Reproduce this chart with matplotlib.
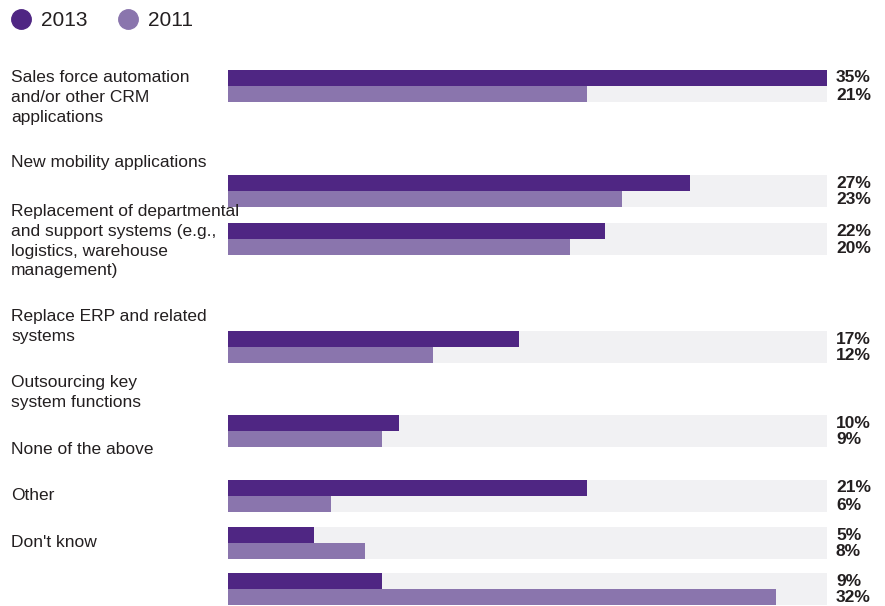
import matplotlib.pyplot as plt
from matplotlib.lines import Line2D

# Data
labels = [
    "Sales force automation\nand/or other CRM\napplications",
    "New mobility applications",
    "Replacement of departmental\nand support systems (e.g.,\nlogistics, warehouse\nmanagement)",
    "Replace ERP and related\nsystems",
    "Outsourcing key\nsystem functions",
    "None of the above",
    "Other",
    "Don't know",
]
v2013 = [35, 27, 22, 17, 10, 21, 5, 9]
v2011 = [21, 23, 20, 12, 9, 6, 8, 32]

# Layout (pixel rows as in the original, which are offset from the labels)
bar_top = [70, 175, 223, 331, 415, 480, 527, 573]
label_top = [77, 162, 211, 316, 382, 449, 495, 542]
bar_h = 16
full = 35

c2013 = "#4f2683"
c2011 = "#8a75ad"
track = "#f1f1f3"
txt = "#231f20"
W, H = 885, 606

plt.rcParams['font.family'] = ['Liberation Sans', 'DejaVu Sans']

fig = plt.figure(figsize=(W / 100, H / 100), dpi=100)
ax = fig.add_axes([228 / W, 0, (827 - 228) / W, 1])
ax.set_xlim(0, full)
ax.set_ylim(H, 0)
ax.axis('off')

for i in range(len(labels)):
    y = bar_top[i]
    ax.barh(y, full, height=2 * bar_h, align='edge', color=track, linewidth=0)
    ax.barh(y, v2013[i], height=bar_h, align='edge', color=c2013, linewidth=0)
    ax.barh(y + bar_h, v2011[i], height=bar_h, align='edge', color=c2011, linewidth=0)
    fig.text(836 / W, 1 - (y + 8) / H, f"{v2013[i]}%", fontsize=12.5,
             fontweight='bold', color=txt, va='center', ha='left')
    fig.text(836 / W, 1 - (y + bar_h + 9) / H, f"{v2011[i]}%", fontsize=12.5,
             fontweight='bold', color=txt, va='center', ha='left')
    fig.text(11 / W, 1 - (label_top[i] - 7) / H, labels[i], fontsize=12.5,
             color=txt, va='top', ha='left', linespacing=1.4)

# Legend
handles = [
    Line2D([], [], marker='o', linestyle='', markersize=14, color=c2013, label='2013'),
    Line2D([], [], marker='o', linestyle='', markersize=14, color=c2011, label='2011'),
]
leg = fig.legend(handles=handles, loc='upper left', bbox_to_anchor=(0.0, 1.0), ncol=2,
                 frameon=False, fontsize=15, handlelength=0.9, handletextpad=0.5,
                 columnspacing=1.5, borderpad=0.25, borderaxespad=0.3)
for t in leg.get_texts():
    t.set_color(txt)

fig.savefig("out.png", dpi=100)
